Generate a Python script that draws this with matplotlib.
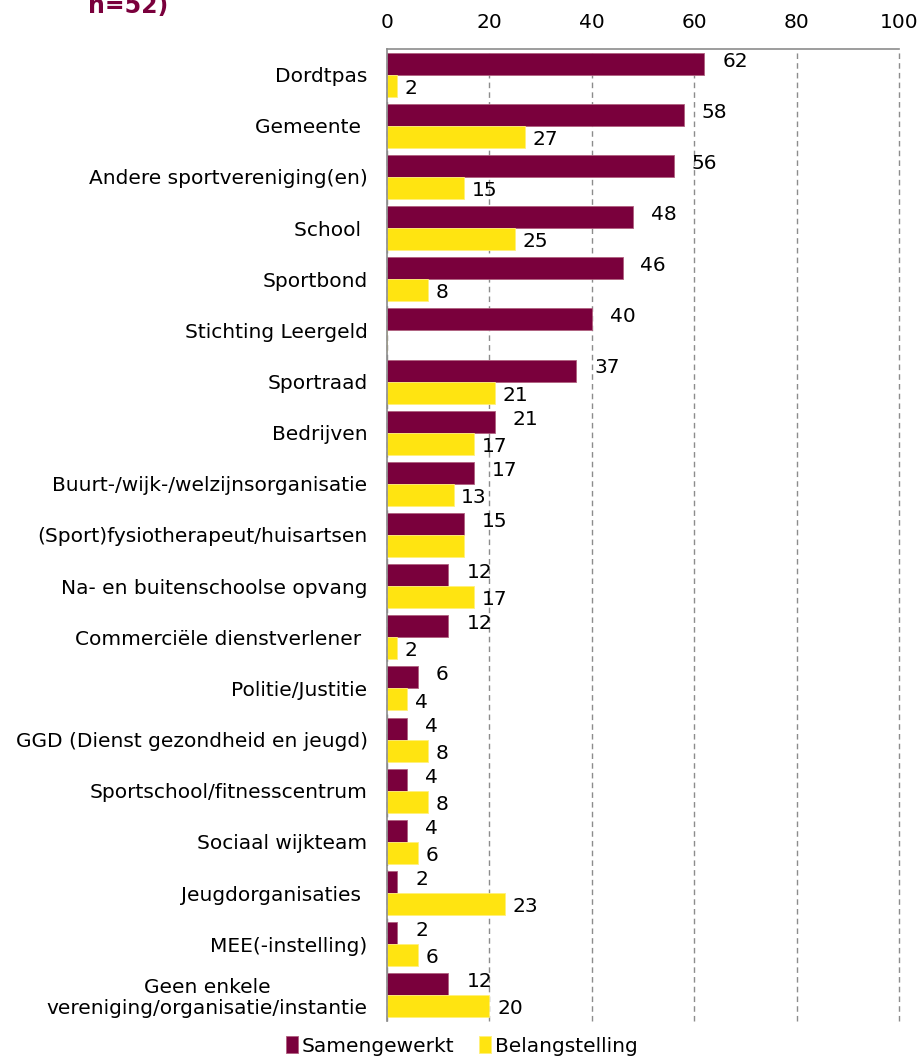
import matplotlib.pyplot as plt
import numpy as np

plt.rcParams['font.family'] = ['DejaVu Sans']

categorieen = ['Dordtpas', 'Gemeente ', 'Andere sportvereniging(en)', 'School ',
               'Sportbond', 'Stichting Leergeld', 'Sportraad', 'Bedrijven',
               'Buurt-/wijk-/welzijnsorganisatie', '(Sport)fysiotherapeut/huisartsen',
               'Na- en buitenschoolse opvang', 'Commerciële dienstverlener ',
               'Politie/Justitie', 'GGD (Dienst gezondheid en jeugd)',
               'Sportschool/fitnesscentrum', 'Sociaal wijkteam', 'Jeugdorganisaties ',
               'MEE(-instelling)', 'Geen enkele\nvereniging/organisatie/instantie']
samengewerkt = [62, 58, 56, 48, 46, 40, 37, 21, 17, 15, 12, 12, 6, 4, 4, 4, 2, 2, 12]
belangstelling = [2, 27, 15, 25, 8, 0, 21, 17, 13, 15, 17, 2, 4, 8, 8, 6, 23, 6, 20]
# labels die in het origineel ontbreken
verborgen = {5, 9}

paars = '#7A003C'
geel = '#FFE411'

fig = plt.figure(figsize=(9.23, 10.57), dpi=100)
ax = fig.add_axes([387/923, 1 - 1021/1057, (899-387)/923, (1021-49)/1057])

y = np.arange(len(categorieen))
h = 0.43
ax.barh(y - h/2, samengewerkt, height=h, color=paars, edgecolor='#B0607F', linewidth=0.6,
        label='Samengewerkt')
ax.barh(y + h/2, belangstelling, height=h, color=geel, edgecolor='#FFF07A', linewidth=0.6,
        label='Belangstelling')

for i in range(len(categorieen)):
    ax.text(samengewerkt[i] + 3.5, y[i] - h/2 - 0.05, str(samengewerkt[i]),
            va='center', ha='left', fontsize=14.5)
    if i not in verborgen:
        ax.text(belangstelling[i] + 1.5, y[i] + h/2 + 0.05, str(belangstelling[i]),
                va='center', ha='left', fontsize=14.5)

ax.set_xlim(0, 100)
ax.set_ylim(len(categorieen) - 0.5, -0.5)
ax.set_xticks(range(0, 101, 20))
ax.xaxis.tick_top()
ax.tick_params(axis='x', length=0, labelsize=14.5, pad=12)
ax.set_yticks(y)
ax.set_yticklabels(categorieen, fontsize=14.5, linespacing=1.1)
ax.tick_params(axis='y', length=0, pad=14)
for lab in ax.get_yticklabels():
    lab.set_multialignment('center')

ax.grid(axis='x', color='#8C8C8C', linestyle=(0, (4, 3)), linewidth=1.0)
for gl in ax.get_xgridlines():
    gl.set_clip_on(False)
ax.set_axisbelow(True)
ax.spines['bottom'].set_visible(False)
ax.spines['right'].set_visible(False)
ax.spines['top'].set_color('#8C8C8C')
ax.spines['left'].set_color('#8C8C8C')
ax.spines['top'].set_linewidth(1.2)
ax.spines['left'].set_linewidth(1.2)

# titel valt in het origineel deels buiten beeld
fig.text(88/923, 1 - 13/1057, 'n=52)', color=paars, fontsize=17, fontweight='bold',
         va='baseline', ha='left')

fig.legend(loc='center', bbox_to_anchor=(0.5, 1 - 1046/1057), ncol=2, frameon=False,
           fontsize=14.5, handlelength=0.6, handleheight=0.9, handletextpad=0.2,
           columnspacing=1.2)

fig.savefig('out.png', dpi=100)
